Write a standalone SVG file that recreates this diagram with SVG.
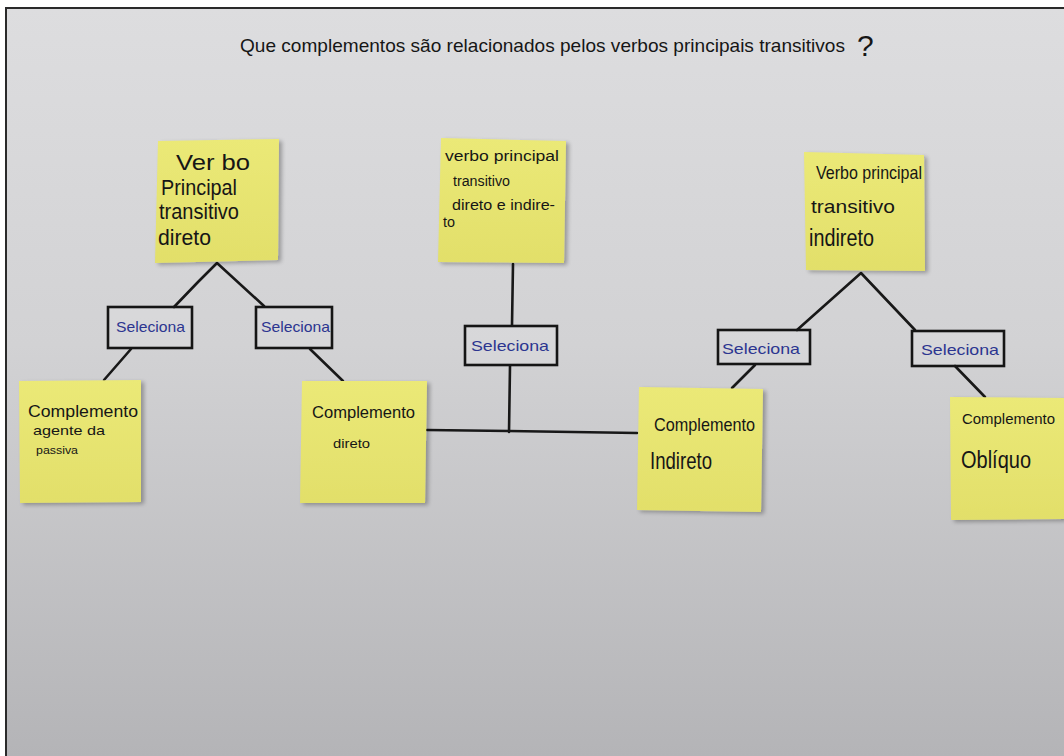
<svg xmlns="http://www.w3.org/2000/svg" width="1064" height="756" viewBox="0 0 1064 756">
  <defs>
    <linearGradient id="board" x1="0" y1="0" x2="0" y2="1">
      <stop offset="0" stop-color="#dddddf"/>
      <stop offset="0.45" stop-color="#d2d2d4"/>
      <stop offset="1" stop-color="#b4b4b7"/>
    </linearGradient>
    <linearGradient id="paper" x1="0" y1="0" x2="0" y2="1">
      <stop offset="0" stop-color="#ebe977"/>
      <stop offset="1" stop-color="#e2df6a"/>
    </linearGradient>
    <filter id="shadow" x="-10%" y="-10%" width="125%" height="125%">
      <feGaussianBlur in="SourceAlpha" stdDeviation="2"/>
      <feOffset dx="3" dy="2"/>
      <feComponentTransfer><feFuncA type="linear" slope="0.3"/></feComponentTransfer>
      <feMerge><feMergeNode/><feMergeNode in="SourceGraphic"/></feMerge>
    </filter>
    <style>
      .note { fill: url(#paper); filter: url(#shadow); }
      .ink { font-family: "Liberation Sans", "DejaVu Sans", sans-serif; fill: #161616; }
      .box rect { fill: #ffffff; fill-opacity: 0.12; stroke: #151515; stroke-width: 2.6; }
      .box text { font-family: "Liberation Sans", "DejaVu Sans", sans-serif; fill: #2c3590; font-size: 15px; }
      .wire { fill: none; stroke: #181818; stroke-width: 2.6; stroke-linecap: round; stroke-linejoin: round; }
    </style>
  </defs>

  <!-- board -->
  <rect x="0" y="0" width="1064" height="756" fill="#ffffff"/>
  <rect x="6" y="8" width="1058" height="748" fill="url(#board)"/>
  <path d="M6 756 V8 H1064" fill="none" stroke="#2a2a2a" stroke-width="2"/>

  <!-- heading -->
  <text class="ink" x="240" y="52" font-size="19" textLength="605" lengthAdjust="spacingAndGlyphs">Que complementos são relacionados pelos verbos principais transitivos</text>
  <text class="ink" x="857" y="56" font-size="30">?</text>

  <!-- connectors -->
  <g id="connectors">
    <path class="wire" d="M174 307 L198 282 L217 263 L264 306"/>
    <path class="wire" d="M131 349 L104 380"/>
    <path class="wire" d="M310 349 L343 381"/>
    <path class="wire" d="M513 264 L512 325"/>
    <path class="wire" d="M510 366 L509 432"/>
    <path class="wire" d="M427 430 L509 431 L637 433"/>
    <path class="wire" d="M797 330 L861 273 L915 330"/>
    <path class="wire" d="M755 365 L732 388"/>
    <path class="wire" d="M955 366 L985 397"/>
  </g>

  <!-- verb notes -->
  <g id="verbo-td">
    <polygon class="note" points="158,141 279,139 278,260 155,263"/>
    <text class="ink" font-size="22">
      <tspan x="176" y="170" textLength="74" lengthAdjust="spacingAndGlyphs">Ver bo</tspan>
      <tspan x="161" y="195" textLength="76" lengthAdjust="spacingAndGlyphs">Principal</tspan>
      <tspan x="159" y="219" textLength="80" lengthAdjust="spacingAndGlyphs">transitivo</tspan>
      <tspan x="158" y="245" textLength="53" lengthAdjust="spacingAndGlyphs">direto</tspan>
    </text>
  </g>

  <g id="verbo-tdi">
    <polygon class="note" points="441,138 566,141 564,263 438,262"/>
    <text class="ink" font-size="14">
      <tspan x="445" y="161" textLength="114" lengthAdjust="spacingAndGlyphs">verbo principal</tspan>
      <tspan x="453" y="186" textLength="57" lengthAdjust="spacingAndGlyphs">transitivo</tspan>
      <tspan x="452" y="210" textLength="103" lengthAdjust="spacingAndGlyphs">direto e indire-</tspan>
      <tspan x="443" y="227" textLength="12" lengthAdjust="spacingAndGlyphs">to</tspan>
    </text>
  </g>

  <g id="verbo-ti">
    <polygon class="note" points="804,152 924,155 925,271 806,270"/>
    <text class="ink" font-size="19">
      <tspan x="816" y="179" textLength="106" lengthAdjust="spacingAndGlyphs">Verbo principal</tspan>
      <tspan x="811" y="213" textLength="84" lengthAdjust="spacingAndGlyphs">transitivo</tspan>
      <tspan x="809" y="246" font-size="23" textLength="65" lengthAdjust="spacingAndGlyphs">indireto</tspan>
    </text>
  </g>

  <!-- selection boxes -->
  <g id="sel-agente" class="box">
    <rect x="108" y="307" width="84" height="41"/>
    <text x="116" y="332" textLength="69" lengthAdjust="spacingAndGlyphs">Seleciona</text>
  </g>
  <g id="sel-direto" class="box">
    <rect x="256" y="307" width="76" height="41"/>
    <text x="261" y="332" textLength="69" lengthAdjust="spacingAndGlyphs">Seleciona</text>
  </g>
  <g id="sel-centro" class="box">
    <rect x="465" y="326" width="92" height="39"/>
    <text x="471" y="351" textLength="78" lengthAdjust="spacingAndGlyphs">Seleciona</text>
  </g>
  <g id="sel-indireto" class="box">
    <rect x="718" y="330" width="92" height="34"/>
    <text x="722" y="354" font-size="14" textLength="78" lengthAdjust="spacingAndGlyphs">Seleciona</text>
  </g>
  <g id="sel-obliquo" class="box">
    <rect x="912" y="331" width="92" height="35"/>
    <text x="921" y="355" font-size="14" textLength="78" lengthAdjust="spacingAndGlyphs">Seleciona</text>
  </g>

  <!-- complement notes -->
  <g id="comp-agente">
    <polygon class="note" points="19,381 141,380 141,502 20,503"/>
    <text class="ink">
      <tspan x="28" y="417" font-size="16" textLength="110" lengthAdjust="spacingAndGlyphs">Complemento</tspan>
      <tspan x="33" y="435" font-size="13" textLength="72" lengthAdjust="spacingAndGlyphs">agente da</tspan>
      <tspan x="36" y="454" font-size="10" textLength="42" lengthAdjust="spacingAndGlyphs">passiva</tspan>
    </text>
  </g>

  <g id="comp-direto">
    <polygon class="note" points="302,381 427,381 425,503 300,503"/>
    <text class="ink">
      <tspan x="312" y="418" font-size="16" textLength="103" lengthAdjust="spacingAndGlyphs">Complemento</tspan>
      <tspan x="333" y="448" font-size="13" textLength="37" lengthAdjust="spacingAndGlyphs">direto</tspan>
    </text>
  </g>

  <g id="comp-indireto">
    <polygon class="note" points="639,387 763,389 761,512 637,510"/>
    <text class="ink">
      <tspan x="654" y="431" font-size="19" textLength="101" lengthAdjust="spacingAndGlyphs">Complemento</tspan>
      <tspan x="650" y="469" font-size="24" textLength="62" lengthAdjust="spacingAndGlyphs">Indireto</tspan>
    </text>
  </g>

  <g id="comp-obliquo">
    <polygon class="note" points="950,397 1064,398 1064,519 951,520"/>
    <text class="ink">
      <tspan x="962" y="424" font-size="15" textLength="93" lengthAdjust="spacingAndGlyphs">Complemento</tspan>
      <tspan x="961" y="468" font-size="23" textLength="70" lengthAdjust="spacingAndGlyphs">Oblíquo</tspan>
    </text>
  </g>
</svg>
